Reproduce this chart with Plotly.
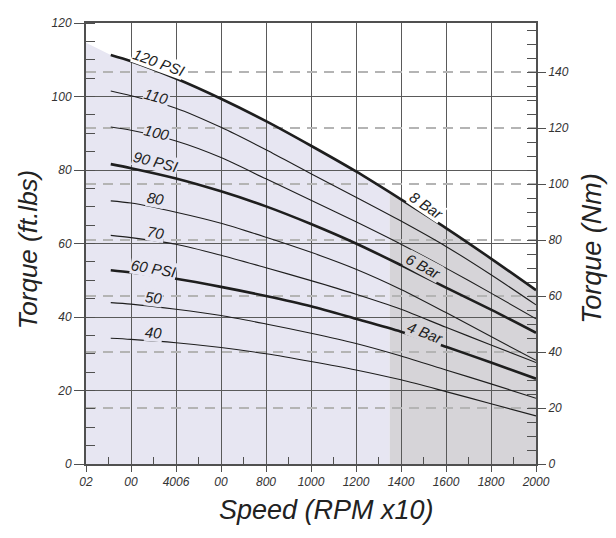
import numpy as np
import plotly.graph_objects as go

# ---------------- data ----------------
speed = [110, 200, 400, 600, 800, 1000, 1200, 1400, 1600, 1800, 2000]

psi_120 = [111.3, 109.6, 104.9, 99.4, 93.3, 86.6, 79.6, 72.0, 64.2, 55.9, 47.3]
psi_110 = [101.5, 100.2, 96.8, 91.6, 85.5, 79.0, 72.6, 66.1, 59.2, 51.5, 43.3]
psi_100 = [91.7, 90.8, 87.9, 83.4, 77.6, 71.8, 65.9, 59.8, 53.3, 46.5, 39.5]
psi_90 = [81.6, 80.5, 77.7, 74.2, 70.1, 65.3, 60.0, 54.1, 48.0, 42.0, 35.7]
psi_80 = [71.6, 71.0, 68.5, 65.5, 61.7, 57.6, 53.0, 47.5, 41.2, 34.7, 28.2]
psi_70 = [62.2, 61.6, 59.8, 56.8, 53.4, 49.9, 46.2, 42.1, 37.2, 32.4, 27.6]
psi_60 = [52.7, 52.1, 50.4, 48.2, 45.7, 42.9, 39.5, 36.0, 31.9, 27.6, 23.2]
psi_50 = [43.9, 43.5, 42.1, 40.4, 38.1, 35.6, 32.8, 29.4, 25.6, 21.8, 17.9]
psi_40 = [34.2, 33.9, 33.0, 31.7, 30.0, 27.9, 25.6, 22.9, 19.7, 16.4, 13.1]

series = [psi_120, psi_110, psi_100, psi_90, psi_80, psi_70, psi_60, psi_50, psi_40]
heavy = [True, False, False, True, False, False, True, False, False]

envelope_start_speed = 0
envelope_start_torque = 114.6
split_speed = 1350

x_tickvals = [0, 200, 400, 600, 800, 1000, 1200, 1400, 1600, 1800, 2000]
x_ticktext = ["02", "00", "4006", "00", "800", "1000", "1200", "1400", "1600", "1800", "2000"]
x_minor = [100, 300, 500, 700, 900, 1100, 1300, 1500, 1700, 1900]
y_ticks = [0, 20, 40, 60, 80, 100, 120]
nm_ticks = [0, 20, 40, 60, 80, 100, 120, 140]

label_texts = ["120 PSI", "110", "100", "90 PSI", "80", "70", "60 PSI", "50", "40",
               "8 Bar", "6 Bar", "4 Bar"]

# ---------------- styling ----------------
LAV = "#e7e6f2"
GRAY = "#d6d4d8"
GRID = "#5a5a5a"
AX = "#505050"
INK = "#1e1e1e"
FONT = "Liberation Sans, Arial, Helvetica, sans-serif"

fig = go.Figure()

for vals, hv in zip(series, heavy):
    fig.add_trace(go.Scatter(
        x=speed, y=vals, mode="lines",
        line=dict(color=INK, width=2.6 if hv else 1.1, shape="spline", smoothing=0.8),
        hoverinfo="skip", showlegend=False))

# dummy trace for the right axis
fig.add_trace(go.Scatter(x=[None], y=[None], yaxis="y2", showlegend=False, hoverinfo="skip"))

# ---------------- shaded regions (built from the 120 PSI curve) ----------------
top = psi_120
split_val = float(np.interp(split_speed, speed, top))
left_pts = [(envelope_start_speed, envelope_start_torque)] + \
    [(s, v) for s, v in zip(speed, top) if s < split_speed] + [(split_speed, split_val)]
right_pts = [(split_speed, split_val)] + [(s, v) for s, v in zip(speed, top) if s > split_speed]


def poly(pts, x0, x1):
    return f"M {x0},0 " + " ".join(f"L {x},{y}" for x, y in pts) + f" L {x1},0 Z"


fig.add_shape(type="path", path=poly(left_pts, envelope_start_speed, split_speed),
              xref="x", yref="y", fillcolor=LAV, line=dict(width=0), layer="below")
fig.add_shape(type="path", path=poly(right_pts, split_speed, speed[-1]),
              xref="x", yref="y", fillcolor=GRAY, line=dict(width=0), layer="below")

# ---------------- curve labels ----------------
label_layout = [
    (324, 109.3, 20, "white"),
    (314, 100.0, 15, LAV),
    (314, 90.2, 13, LAV),
    (307, 82.3, 14, LAV),
    (310, 72.3, 10, LAV),
    (307, 62.9, 10, LAV),
    (302, 53.3, 10, LAV),
    (299, 45.3, 7, LAV),
    (299, 35.9, 5, LAV),
    (1514, 70.3, 34, "white"),
    (1502, 53.8, 28, GRAY),
    (1507, 35.9, 21, GRAY),
]
for txt, (lx, ly, ang, bg) in zip(label_texts, label_layout):
    fig.add_annotation(x=lx, y=ly, xref="x", yref="y", text=txt, showarrow=False,
                       textangle=ang, bgcolor=bg, borderpad=0,
                       xanchor="center", yanchor="middle",
                       font=dict(family=FONT, size=15, color=INK, style="italic"))

# ---------------- axis titles ----------------
fig.add_annotation(x=-0.129, y=0.487, xref="paper", yref="paper", text="Torque (ft.lbs)",
                   textangle=-90, showarrow=False, xanchor="center", yanchor="middle",
                   font=dict(family=FONT, size=26, color="#222", style="italic"))
fig.add_annotation(x=1.124, y=0.49, xref="paper", yref="paper", text="Torque (Nm)",
                   textangle=-90, showarrow=False, xanchor="center", yanchor="middle",
                   font=dict(family=FONT, size=27, color="#222", style="italic"))
fig.add_annotation(x=0.534, y=-0.105, xref="paper", yref="paper", text="Speed (RPM x10)",
                   showarrow=False, xanchor="center", yanchor="middle",
                   font=dict(family=FONT, size=27, color="#222", style="italic"))

tick_font = dict(family=FONT, size=12, color="#333", style="italic")

# the page body adds an 8px margin, so the figure is sized to fit inside it
fig.update_layout(
    width=600, height=522,
    margin=dict(l=78, r=72, t=8, b=66),
    paper_bgcolor="white", plot_bgcolor="white",
    showlegend=False,
    xaxis=dict(range=[0, 2000], tickmode="array", tickvals=x_tickvals, ticktext=x_ticktext,
               showgrid=True, gridcolor=GRID, gridwidth=1.3, zeroline=False,
               showline=True, linecolor=AX, linewidth=2, mirror=True,
               ticks="outside", ticklen=6, tickwidth=1.3, tickcolor=AX,
               tickfont=tick_font,
               minor=dict(tickmode="array", tickvals=x_minor, ticks="inside", ticklen=7,
                          tickwidth=1.3, tickcolor=AX, showgrid=False)),
    yaxis=dict(range=[0, 120], tickmode="array", tickvals=y_ticks,
               showgrid=True, gridcolor=GRID, gridwidth=1.3, zeroline=False,
               showline=True, linecolor=AX, linewidth=2,
               ticks="outside", ticklen=10, tickwidth=1.3, tickcolor=AX,
               tickfont=tick_font,
               minor=dict(tickmode="linear", tick0=0, dtick=5, ticks="inside", ticklen=9,
                          tickwidth=1.3, tickcolor=AX, showgrid=False)),
    yaxis2=dict(range=[0, 157.6], overlaying="y", side="right", tickmode="array",
                tickvals=nm_ticks, showgrid=True, gridcolor="#b4b4b4", gridwidth=2,
                griddash="10px,7px", zeroline=False,
                showline=True, linecolor=AX, linewidth=2,
                ticks="outside", ticklen=8, tickwidth=1.3, tickcolor=AX,
                tickfont=tick_font,
                minor=dict(tickmode="linear", tick0=0, dtick=5, ticks="inside", ticklen=9,
                           tickwidth=1.3, tickcolor=AX, showgrid=False)),
)

fig.write_html("out.html")
